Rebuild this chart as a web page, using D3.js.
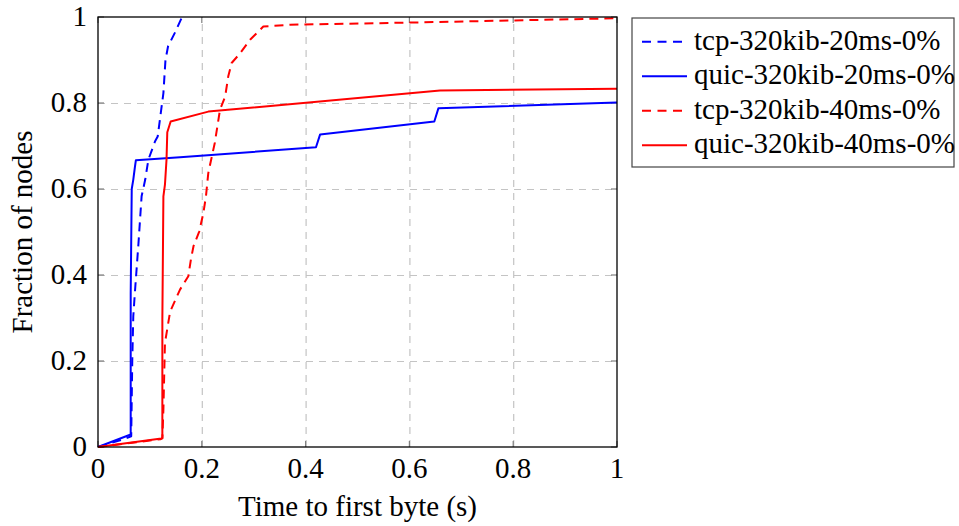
<!DOCTYPE html>
<html>
<head>
<meta charset="utf-8">
<script src="https://cdn.jsdelivr.net/npm/d3@7"></script>
<style>
  body { margin: 0; background: #fff; }
  svg text { font-family: "Liberation Serif", "Times New Roman", serif; fill: #000; }
</style>
</head>
<body>
<svg id="chart" width="959" height="526"></svg>
<script>
// values: [time (s), fraction of nodes]
var tcp20 = [[0,0],[0.046,0.017],[0.064,0.025],[0.066,0.2],[0.068,0.304],[0.071,0.358],[0.078,0.474],
  [0.084,0.583],[0.091,0.622],[0.097,0.668],[0.110,0.711],[0.115,0.722],[0.121,0.777],[0.126,0.823],
  [0.130,0.900],[0.135,0.932],[0.148,0.963],[0.162,1]];
var quic20 = [[0,0],[0.063,0.029],[0.063,0.358],[0.065,0.600],[0.068,0.622],[0.071,0.650],[0.073,0.667],
  [0.158,0.674],[0.420,0.697],[0.428,0.727],[0.648,0.757],[0.656,0.788],[1,0.801]];
var tcp40 = [[0,0],[0.120,0.018],[0.124,0.020],[0.126,0.087],[0.129,0.242],[0.139,0.315],[0.158,0.366],
  [0.174,0.397],[0.179,0.436],[0.184,0.467],[0.195,0.501],[0.203,0.544],[0.208,0.583],[0.2125,0.637],
  [0.218,0.668],[0.225,0.707],[0.235,0.784],[0.245,0.815],[0.251,0.862],[0.2575,0.893],[0.274,0.916],
  [0.293,0.947],[0.3185,0.978],[0.37,0.982],[0.6,0.987],[1,0.997]];
var quic40 = [[0,0],[0.122,0.020],[0.124,0.021],[0.124,0.296],[0.126,0.583],[0.129,0.610],[0.132,0.668],
  [0.1335,0.732],[0.140,0.757],[0.2125,0.780],[0.659,0.829],[1,0.833]];

var seriesNames = ["tcp-320kib-20ms-0%", "quic-320kib-20ms-0%", "tcp-320kib-40ms-0%", "quic-320kib-40ms-0%"];
var seriesData = [tcp20, quic20, tcp40, quic40];
var seriesColors = ["#0000ff", "#0000ff", "#ff0000", "#ff0000"];
var seriesDashed = [true, false, true, false];

var xTicks = [0, 0.2, 0.4, 0.6, 0.8, 1];
var yTicks = [0, 0.2, 0.4, 0.6, 0.8, 1];
var xTitle = "Time to first byte (s)";
var yTitle = "Fraction of nodes";

// plot box (note: "top" is taken by window.top, so prefix everything)
var pLeft = 98, pRight = 617, pTop = 17, pBottom = 447;
var W = pRight - pLeft, H = pBottom - pTop;
var fontSize = 29;

var svg = d3.select("#chart");
var x = d3.scaleLinear().domain([0, 1]).range([pLeft, pRight]);
var y = d3.scaleLinear().domain([0, 1]).range([pBottom, pTop]);
var fmt = function(d){ return (d === 0 || d === 1) ? String(d) : d3.format(".1f")(d); };

// grid
svg.append("g")
  .attr("transform", "translate(0," + pBottom + ")")
  .call(d3.axisBottom(x).tickValues(xTicks.slice(1, -1)).tickSize(-H).tickFormat(""))
  .call(function(g){ g.select(".domain").remove(); })
  .selectAll("line").attr("stroke", "#c4c4c4").attr("stroke-width", 1.2).attr("stroke-dasharray", "7,6");
svg.append("g")
  .attr("transform", "translate(" + pLeft + ",0)")
  .call(d3.axisLeft(y).tickValues(yTicks.slice(1, -1)).tickSize(-W).tickFormat(""))
  .call(function(g){ g.select(".domain").remove(); })
  .selectAll("line").attr("stroke", "#c4c4c4").attr("stroke-width", 1.2).attr("stroke-dasharray", "7,6");

// inner tick marks on all four sides
var tickLen = 6;
[[pBottom, -1], [pTop, 1]].forEach(function(s){
  svg.append("g").selectAll("line").data(xTicks).enter().append("line")
    .attr("x1", function(d){ return x(d); }).attr("x2", function(d){ return x(d); })
    .attr("y1", s[0]).attr("y2", s[0] + s[1] * tickLen)
    .attr("stroke", "#808080").attr("stroke-width", 1.2);
});
[[pLeft, 1], [pRight, -1]].forEach(function(s){
  svg.append("g").selectAll("line").data(yTicks).enter().append("line")
    .attr("y1", function(d){ return y(d); }).attr("y2", function(d){ return y(d); })
    .attr("x1", s[0]).attr("x2", s[0] + s[1] * tickLen)
    .attr("stroke", "#808080").attr("stroke-width", 1.2);
});

// tick labels
svg.append("g").selectAll("text").data(xTicks).enter().append("text")
  .attr("x", function(d){ return x(d); }).attr("y", pBottom + 31)
  .attr("text-anchor", "middle").attr("font-size", fontSize)
  .text(fmt);
svg.append("g").selectAll("text").data(yTicks).enter().append("text")
  .attr("x", pLeft - 11).attr("y", function(d){ return y(d) + 9; })
  .attr("text-anchor", "end").attr("font-size", fontSize)
  .text(fmt);

// curves
var line = d3.line().x(function(d){ return x(d[0]); }).y(function(d){ return y(d[1]); });
svg.append("g").selectAll("path").data(seriesData).enter().append("path")
  .attr("d", line)
  .attr("fill", "none")
  .attr("stroke", function(d, i){ return seriesColors[i]; })
  .attr("stroke-width", 2)
  .attr("stroke-linejoin", "round")
  .attr("stroke-dasharray", function(d, i){ return seriesDashed[i] ? "9,6" : null; });

// frame
svg.append("rect")
  .attr("x", pLeft).attr("y", pTop).attr("width", W).attr("height", H)
  .attr("fill", "none").attr("stroke", "#000").attr("stroke-width", 1.3);

// axis titles
svg.append("text")
  .attr("x", (pLeft + pRight) / 2).attr("y", 516)
  .attr("text-anchor", "middle").attr("font-size", fontSize)
  .text(xTitle);
svg.append("text")
  .attr("transform", "translate(32," + ((pTop + pBottom) / 2) + ") rotate(-90)")
  .attr("text-anchor", "middle").attr("font-size", fontSize)
  .text(yTitle);

// legend
var legend = svg.append("g");
legend.append("rect")
  .attr("x", 632).attr("y", 18).attr("width", 322).attr("height", 149)
  .attr("fill", "#fff").attr("stroke", "#444").attr("stroke-width", 1.2);
var rows = legend.selectAll("g.row").data(seriesNames).enter().append("g")
  .attr("class", "row")
  .attr("transform", function(d, i){ return "translate(0," + (41.7 + i * 34.5) + ")"; });
rows.append("line")
  .attr("x1", 642).attr("x2", 687).attr("y1", 0).attr("y2", 0)
  .attr("stroke", function(d, i){ return seriesColors[i]; })
  .attr("stroke-width", 2)
  .attr("stroke-dasharray", function(d, i){ return seriesDashed[i] ? "9,6.5" : null; });
rows.append("text")
  .attr("x", 694).attr("y", 8)
  .attr("font-size", fontSize)
  .text(function(d){ return d; });
</script>
</body>
</html>
